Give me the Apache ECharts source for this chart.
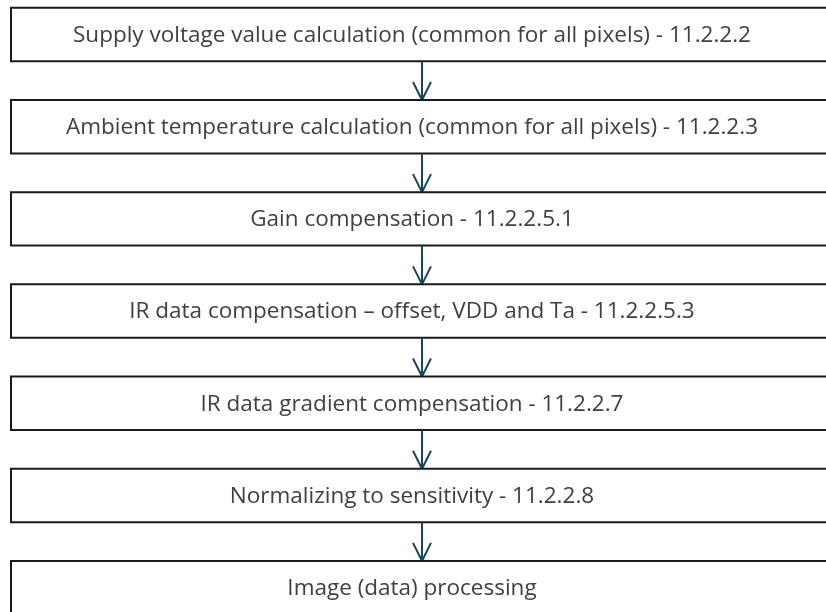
<!DOCTYPE html>
<html>
<head>
<meta charset="utf-8">
<script src="https://cdn.jsdelivr.net/npm/echarts@6/dist/echarts.min.js"></script>
<style>
  html, body { margin: 0; padding: 0; background: #fff; }
  #main { width: 826px; height: 612px; }
</style>
</head>
<body>
<div id="main"></div>
<script>
// 流程步骤
var steps = [
	'Supply voltage value calculation (common for all pixels) - 11.2.2.2',
	'Ambient temperature calculation (common for all pixels) - 11.2.2.3',
	'Gain compensation - 11.2.2.5.1',
	'IR data compensation \u2013 offset, VDD and Ta - 11.2.2.5.3',
	'IR data gradient compensation - 11.2.2.7',
	'Normalizing to sensitivity - 11.2.2.8',
	'Image (data) processing'
];
// 步骤序号
var stepIndex = [0, 1, 2, 3, 4, 5, 6];

var myChart = echarts.init(document.getElementById('main'));

function renderStep(params, api) {
	var i = api.value(0);
	var unit = api.size([0, 1])[1];
	var boxH = unit * 0.58;
	var c = api.coord([0, i]);
	var left = api.coord([11, i])[0];
	var right = api.coord([840, i])[0];
	var textX = api.coord([412, i])[0];
	var arrowX = api.coord([422, i])[0];
	var top = c[1] - boxH / 2;
	var bottom = c[1] + boxH / 2;
	var children = [
		{
			type: 'rect',
			shape: { x: left, y: top, width: right - left, height: boxH },
			style: { fill: '#fff', stroke: '#1a1a1a', lineWidth: 2 }
		},
		{
			type: 'text',
			style: {
				x: textX, y: c[1] + 1,
				text: steps[i],
				align: 'center', verticalAlign: 'middle',
				fill: '#404040',
				font: '22.5px "Open Sans"'
			}
		}
	];
	if (i < steps.length - 1) {
		var nextTop = api.coord([0, i + 1])[1] - boxH / 2;
		children.push({
			type: 'line',
			shape: { x1: arrowX, y1: bottom, x2: arrowX, y2: nextTop },
			style: { stroke: '#17465a', lineWidth: 2 }
		});
		children.push({
			type: 'polyline',
			shape: { points: [[arrowX - 9, nextTop - 18], [arrowX, nextTop], [arrowX + 9, nextTop - 18]] },
			style: { stroke: '#17465a', lineWidth: 2, fill: null }
		});
	}
	return { type: 'group', children: children };
}

var option = {
	animation: false,
	grid: { left: 0, right: 0, top: 0, bottom: 0 },
	xAxis: { type: 'value', min: 0, max: 826, show: false },
	yAxis: { type: 'value', min: -0.374, max: 6.264, inverse: true, show: false },
	series: [
		{
			type: 'custom',
			renderItem: renderStep,
			clip: false,
			encode: { y: 0 },
			data: stepIndex.map(function (i) { return [i]; })
		}
	]
};
myChart.setOption(option);
</script>
</body>
</html>
